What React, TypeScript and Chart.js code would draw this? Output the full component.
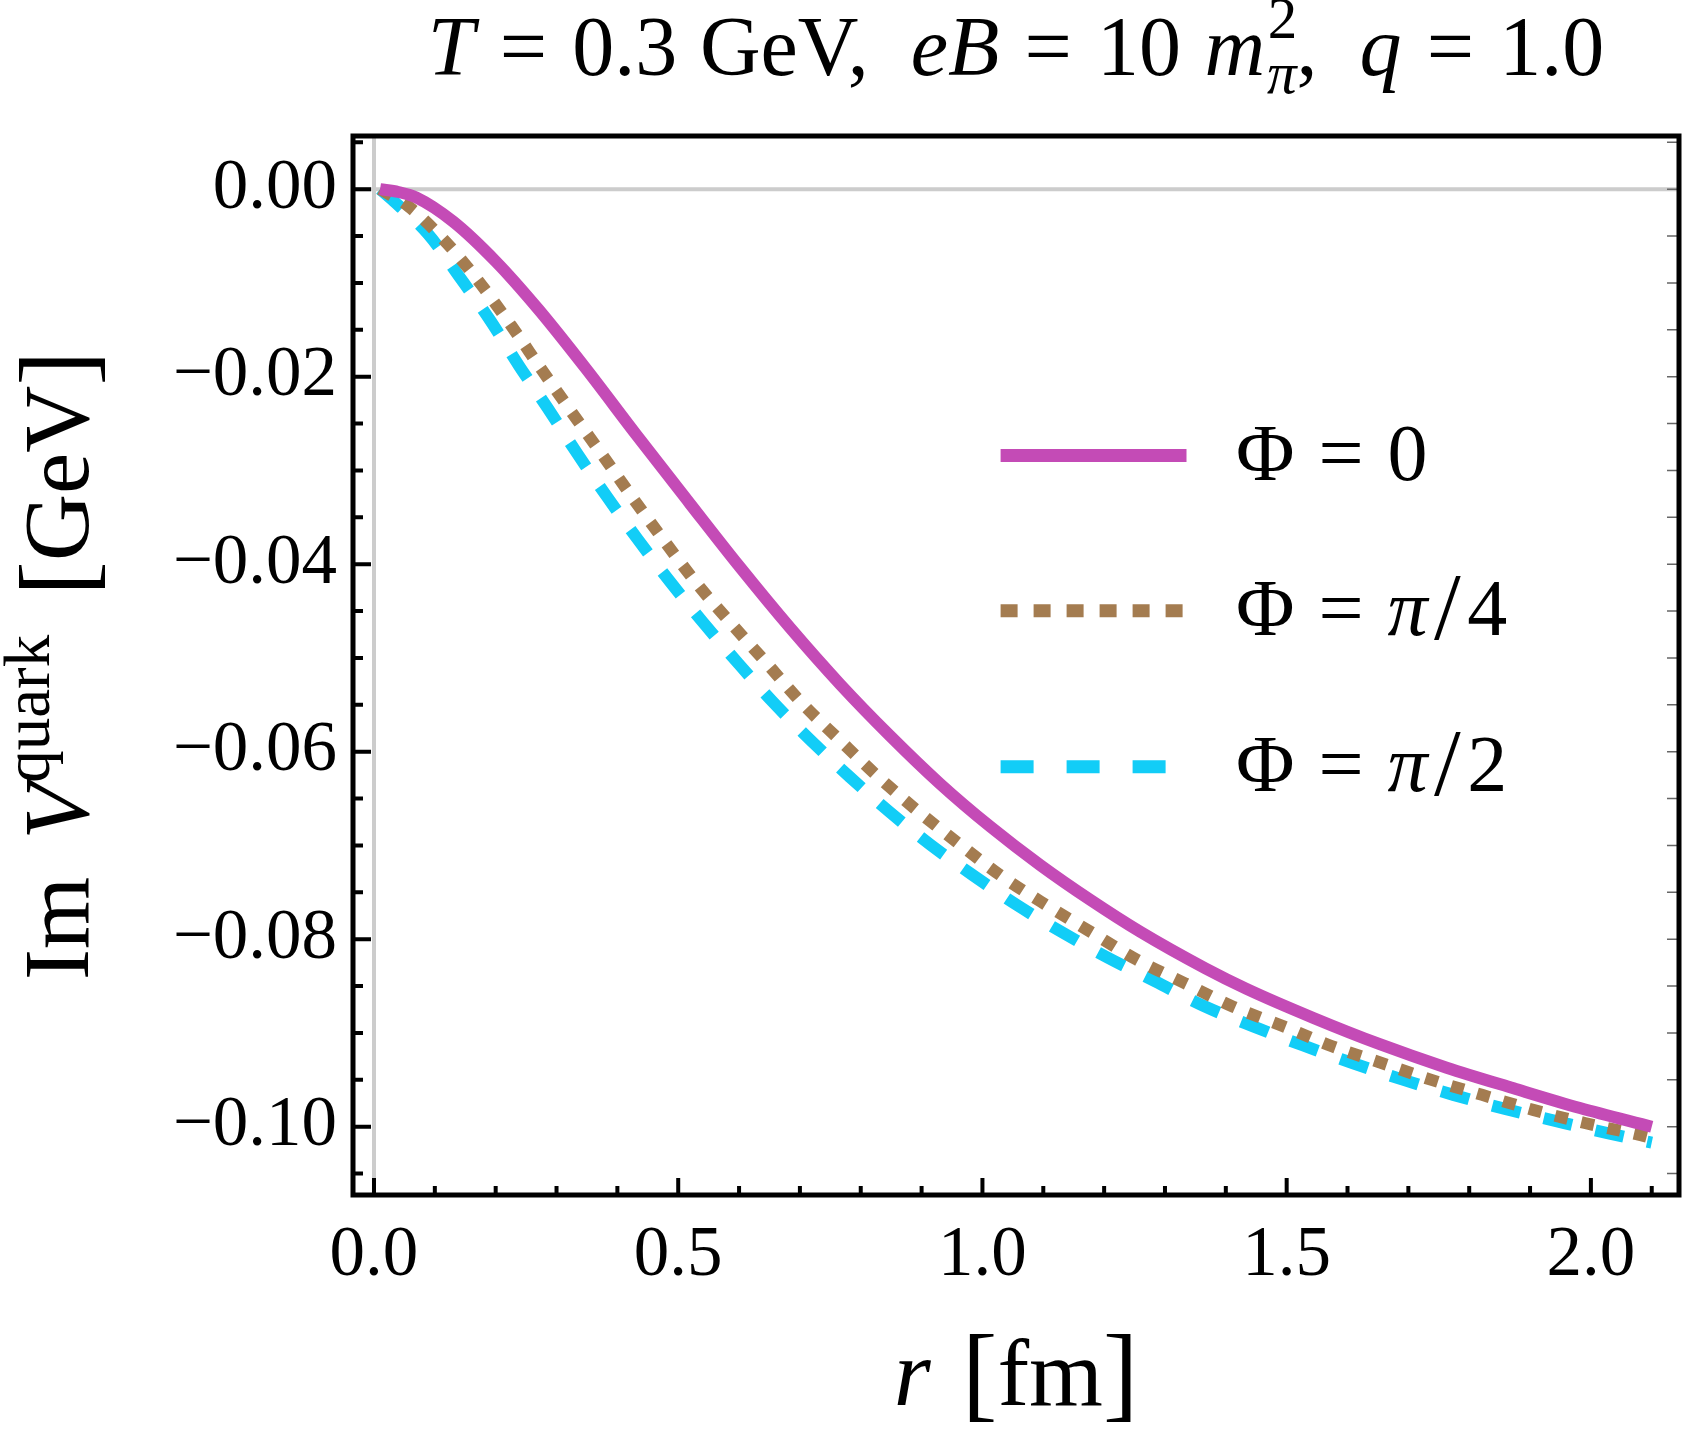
import { useEffect, useRef } from 'react';
import { Chart, registerables } from 'chart.js';

Chart.register(...registerables);

const FONT = '"Liberation Serif", "Times New Roman", serif';

// r [fm] and Im V [GeV]
const rPhi0 = [0.01, 0.04, 0.07, 0.13, 0.20, 0.27, 0.349, 0.43, 0.52, 0.60, 0.684, 0.766, 0.848, 0.93, 1.013, 1.095, 1.177, 1.259, 1.366, 1.434, 1.544, 1.653, 1.763, 1.873, 1.982, 2.10];
const vPhi0 = [0, -0.0003, -0.0009, -0.00345, -0.0077, -0.0128, -0.0192, -0.0261, -0.0336, -0.0402, -0.0468, -0.0528, -0.0583, -0.0634, -0.0680, -0.0721, -0.0758, -0.0792, -0.0831, -0.0853, -0.0884, -0.0912, -0.0937, -0.0959, -0.0980, -0.1000];

const rPhi4 = [0.01, 0.056, 0.119, 0.174, 0.226, 0.275, 0.325, 0.377, 0.426, 0.478, 0.531, 0.588, 0.646, 0.703, 0.766, 0.829, 0.895, 0.963, 1.032, 1.106, 1.18, 1.254, 1.333, 1.412, 1.495, 1.574, 1.656, 1.738, 1.821, 1.905, 1.99, 2.075, 2.10];
const vPhi4 = [0, -0.0018, -0.0057, -0.0100, -0.0146, -0.0192, -0.0238, -0.0285, -0.0330, -0.0376, -0.0421, -0.0464, -0.0506, -0.0548, -0.0588, -0.0627, -0.0664, -0.0699, -0.0733, -0.0764, -0.0793, -0.0822, -0.0847, -0.0872, -0.0893, -0.0914, -0.0932, -0.0950, -0.0966, -0.0982, -0.0996, -0.1008, -0.1012];

const rPhi2 = [0.01, 0.026, 0.089, 0.141, 0.191, 0.238, 0.286, 0.334, 0.384, 0.434, 0.487, 0.542, 0.599, 0.657, 0.718, 0.782, 0.847, 0.914, 0.985, 1.058, 1.132, 1.207, 1.284, 1.363, 1.445, 1.526, 1.608, 1.692, 1.774, 1.859, 1.943, 2.029, 2.10];
const vPhi2 = [0, -0.0009, -0.0048, -0.0094, -0.0140, -0.0188, -0.0234, -0.0282, -0.0329, -0.0374, -0.0419, -0.0463, -0.0506, -0.0548, -0.0588, -0.0627, -0.0664, -0.0699, -0.0732, -0.0764, -0.0793, -0.0820, -0.0845, -0.0871, -0.0893, -0.0913, -0.0932, -0.0950, -0.0966, -0.0981, -0.0994, -0.1007, -0.1017];

const xTicks = [0, 0.5, 1.0, 1.5, 2.0];
const yTicks = [0, -0.02, -0.04, -0.06, -0.08, -0.1];

const colors = ['#c44bb6', '#a47c50', '#12cdf7'];

// rich text runs: it = italic, sc = scale, dy = shift in em, gap = space before in em, hold = don't advance
type Run = { t: string; it?: boolean; sc?: number; dy?: number; gap?: number; hold?: boolean };

const titleRuns: Run[] = [
  { t: 'T', it: true }, { t: '=', gap: 0.3 }, { t: '0.3', gap: 0.3 }, { t: 'GeV,', gap: 0.27 },
  { t: 'eB', it: true, gap: 0.5 }, { t: '=', gap: 0.3 }, { t: '10', gap: 0.3 }, { t: 'm', it: true, gap: 0.28 },
  { t: '2', sc: 0.7, dy: -0.44, gap: 0.03, hold: true }, { t: 'π', it: true, sc: 0.7, dy: 0.22, gap: 0.02 },
  { t: ',' }, { t: 'q', it: true, gap: 0.5 }, { t: '=', gap: 0.3 }, { t: '1.0', gap: 0.3 },
];
const xLabelRuns: Run[] = [
  { t: 'r', it: true }, { t: '[', gap: 0.33, sc: 1.12, dy: 0.03 }, { t: 'fm' }, { t: ']', sc: 1.12, dy: 0.03 },
];
const yLabelRuns: Run[] = [
  { t: 'Im' }, { t: 'V', it: true, gap: 0.4 }, { t: 'quark', sc: 0.7, dy: -0.42 },
  { t: '[', gap: 0.42, sc: 1.12, dy: 0.03 }, { t: 'GeV' }, { t: ']', sc: 1.12, dy: 0.03 },
];
const legendRuns: Run[][] = [
  [{ t: 'Φ' }, { t: '=', gap: 0.3 }, { t: '0', gap: 0.3 }],
  [{ t: 'Φ' }, { t: '=', gap: 0.3 }, { t: 'π', it: true, gap: 0.3 }, { t: '/', gap: 0.08, sc: 1.2, dy: 0.05 }, { t: '4', gap: 0.08 }],
  [{ t: 'Φ' }, { t: '=', gap: 0.3 }, { t: 'π', it: true, gap: 0.3 }, { t: '/', gap: 0.08, sc: 1.2, dy: 0.05 }, { t: '2', gap: 0.08 }],
];
const legendDash = [[], [17, 16], [33, 33]];

const fontOf = (r: Run, size: number) => `${r.it ? 'italic ' : ''}${Math.round(size * (r.sc || 1))}px ${FONT}`;

function drawRuns(ctx: CanvasRenderingContext2D, runs: Run[], size: number, x0: number, y0: number, center: boolean) {
  const widths = runs.map((r) => { ctx.font = fontOf(r, size); return ctx.measureText(r.t).width; });
  let total = 0;
  runs.forEach((r, i) => { if (!r.hold) total += (r.gap || 0) * size + widths[i]; });
  let x = center ? x0 - total / 2 : x0;
  ctx.textBaseline = 'alphabetic';
  ctx.textAlign = 'left';
  runs.forEach((r, i) => {
    ctx.font = fontOf(r, size);
    const gx = x + (r.gap || 0) * size;
    ctx.fillText(r.t, gx, y0 + (r.dy || 0) * size);
    if (!r.hold) x = gx + widths[i];
  });
}

const decor = {
  id: 'decor',
  beforeDatasetsDraw(chart: any) {
    const { ctx, chartArea: a, scales } = chart;
    const x0 = scales.x.getPixelForValue(0);
    const y0 = scales.y.getPixelForValue(0);
    ctx.save();
    ctx.strokeStyle = '#cccccc';
    ctx.lineWidth = 4;
    ctx.beginPath();
    ctx.moveTo(x0, a.top); ctx.lineTo(x0, a.bottom);
    ctx.moveTo(a.left, y0); ctx.lineTo(a.right, y0);
    ctx.stroke();
    ctx.restore();
  },
  afterDatasetsDraw(chart: any) {
    const { ctx, chartArea: a, scales } = chart;
    const sx = scales.x, sy = scales.y;
    ctx.save();
    ctx.lineCap = 'butt';
    // left ticks, every 0.005, long at 0.02
    ctx.strokeStyle = '#000';
    ctx.lineWidth = 4;
    ctx.beginPath();
    for (let k = Math.ceil(sy.min / 0.005); k * 0.005 <= sy.max; k++) {
      const p = sy.getPixelForValue(k * 0.005);
      const len = k % 4 === 0 ? 18 : 10;
      ctx.moveTo(a.left, p); ctx.lineTo(a.left + len, p);
    }
    // bottom ticks, every 0.1, long at 0.5
    for (let k = Math.ceil(sx.min / 0.1); k * 0.1 <= sx.max; k++) {
      const p = sx.getPixelForValue(k * 0.1);
      const len = k % 5 === 0 ? 17 : 9;
      ctx.moveTo(p, a.bottom); ctx.lineTo(p, a.bottom - len);
    }
    ctx.stroke();
    // right ticks, thin grey
    ctx.strokeStyle = '#666';
    ctx.lineWidth = 1.5;
    ctx.beginPath();
    for (let k = Math.ceil(sy.min / 0.005); k * 0.005 <= sy.max; k++) {
      const p = sy.getPixelForValue(k * 0.005);
      ctx.moveTo(a.right, p); ctx.lineTo(a.right - 12, p);
    }
    ctx.stroke();
    // frame
    ctx.strokeStyle = '#000';
    ctx.lineWidth = 5;
    ctx.strokeRect(a.left, a.top, a.right - a.left, a.bottom - a.top);
    ctx.restore();
  },
  afterDraw(chart: any) {
    const { ctx, chartArea: a } = chart;
    const cx = (a.left + a.right) / 2;
    const cy = (a.top + a.bottom) / 2;
    ctx.save();
    ctx.fillStyle = '#000';
    drawRuns(ctx, titleRuns, 84, cx, 75, true);
    drawRuns(ctx, xLabelRuns, 95, cx, 1405, true);
    ctx.save();
    ctx.translate(88, cy);
    ctx.rotate(-Math.PI / 2);
    drawRuns(ctx, yLabelRuns, 93, 0, 0, true);
    ctx.restore();
    // legend
    const lineY = [455.5, 610.7, 766.7];
    legendRuns.forEach((runs, i) => {
      ctx.save();
      ctx.strokeStyle = colors[i];
      ctx.lineWidth = 13;
      ctx.lineCap = 'butt';
      ctx.setLineDash(legendDash[i]);
      ctx.beginPath();
      ctx.moveTo(1000.6, lineY[i]);
      ctx.lineTo(1186.5, lineY[i]);
      ctx.stroke();
      ctx.restore();
      ctx.fillStyle = '#000';
      drawRuns(ctx, runs, 80, 1236, lineY[i] + 24, false);
    });
    ctx.restore();
  },
};

const toPts = (xs: number[], ys: number[]) => xs.map((x, i) => ({ x, y: ys[i] }));

export default function App() {
  const canvasRef = useRef<HTMLCanvasElement>(null);

  useEffect(() => {
    if (!canvasRef.current) return;
    const chart = new Chart(canvasRef.current, {
      type: 'line',
      data: {
        datasets: [
          { label: 'Φ = 0', data: toPts(rPhi0, vPhi0), borderColor: colors[0], borderWidth: 12 },
          { label: 'Φ = π/4', data: toPts(rPhi4, vPhi4), borderColor: colors[1], borderWidth: 12, borderDash: [13, 14] },
          { label: 'Φ = π/2', data: toPts(rPhi2, vPhi2), borderColor: colors[2], borderWidth: 12, borderDash: [29, 24] },
        ],
      },
      options: {
        responsive: false,
        animation: false,
        devicePixelRatio: 1,
        layout: { padding: { top: 136, right: 7, left: 0, bottom: 0 } },
        elements: {
          point: { radius: 0 },
          line: { cubicInterpolationMode: 'monotone', fill: false, borderJoinStyle: 'round' },
        },
        plugins: { legend: { display: false }, title: { display: false }, tooltip: { enabled: false } },
        scales: {
          x: {
            type: 'linear',
            min: -0.0345,
            max: 2.1448,
            grid: { display: false },
            border: { display: false },
            afterBuildTicks: (s: any) => { s.ticks = xTicks.map((value) => ({ value })); },
            afterFit: (s: any) => { s.height = 241; },
            ticks: {
              autoSkip: false,
              maxRotation: 0,
              padding: 11,
              color: '#000',
              font: { family: FONT, size: 71 },
              callback: (v: any) => Number(v).toFixed(1),
            },
          },
          y: {
            type: 'linear',
            min: -0.10728,
            max: 0.00567,
            grid: { display: false },
            border: { display: false },
            afterBuildTicks: (s: any) => { s.ticks = yTicks.map((value) => ({ value })); },
            afterFit: (s: any) => { s.width = 353; },
            ticks: {
              autoSkip: false,
              padding: 8,
              color: '#000',
              font: { family: FONT, size: 71 },
              callback: (v: any) => (Math.abs(v) < 1e-9 ? '0.00' : '\u2212' + Math.abs(v).toFixed(2)),
            },
          },
        },
      },
      plugins: [decor],
    });
    return () => chart.destroy();
  }, []);

  return (
    <div style={{ position: 'absolute', left: 0, top: 0, width: 1686, height: 1436, background: '#fff' }}>
      <canvas ref={canvasRef} width={1686} height={1436} />
    </div>
  );
}
